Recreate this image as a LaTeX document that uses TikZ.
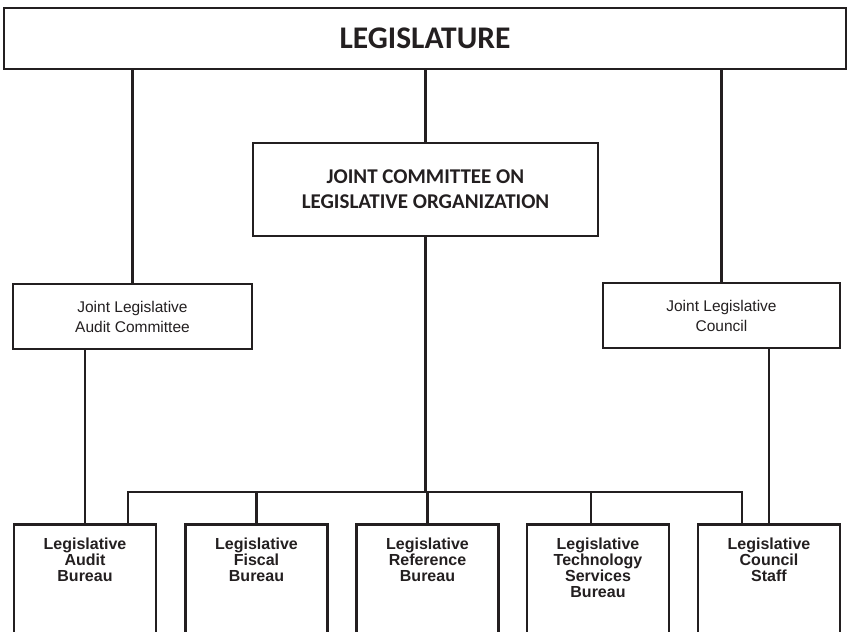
\documentclass[tikz,border=0pt]{standalone}
\usepackage{fontspec}
\setmainfont{Liberation Sans}
\newfontfamily\headfont{Carlito}
\newlength{\du}
\setlength{\du}{1pt}
\definecolor{dialinecolor}{rgb}{0.137255, 0.121569, 0.125490}
\tikzset{
  orgbox/.style={draw=dialinecolor, line width=2.6\du, rectangle, inner sep=0pt, text=dialinecolor},
  headbox/.style={orgbox, align=center, font=\headfont\bfseries\fontsize{21}{25}\selectfont},
  jointbox/.style={orgbox, align=center, minimum height=65\du, font=\fontsize{15.5}{20}\selectfont},
  bureaubox/.style={orgbox, anchor=north, minimum width=142\du, minimum height=125\du},
  bureaulabel/.style={anchor=north, inner sep=0pt, align=center, text=dialinecolor, font=\bfseries\fontsize{16}{16}\selectfont},
  orgline/.style={draw=dialinecolor, line width=2.6\du},
}
\begin{document}
\begin{tikzpicture}
\pgftransformxscale{1.000000}
\pgftransformyscale{-1.000000}
\useasboundingbox (0\du,0\du) rectangle (849\du,632\du);
\clip (0\du,0\du) rectangle (849\du,632\du);
% top level
\node[headbox, minimum width=842\du, minimum height=61\du, font=\headfont\bfseries\fontsize{31.5}{34}\selectfont] (legis) at (425\du,38.5\du) {LEGISLATURE};
\node[headbox, minimum width=345\du, minimum height=93\du] (jclo) at (425.5\du,189.5\du) {JOINT COMMITTEE ON\\LEGISLATIVE ORGANIZATION};
% joint committees
\node[jointbox, minimum width=239\du] (jlac) at (132.5\du,316.5\du) {Joint Legislative\\Audit Committee};
\node[jointbox, minimum width=237\du] (jlc) at (721.5\du,315.5\du) {Joint Legislative\\Council};
% service agencies
\node[bureaubox] (audit) at (85\du,523\du) {};
\node[bureaubox] (fiscal) at (256.5\du,523\du) {};
\node[bureaubox] (refer) at (427.5\du,523\du) {};
\node[bureaubox] (techn) at (598\du,523\du) {};
\node[bureaubox] (staff) at (769\du,523\du) {};
% setfont left to latex
\node[bureaulabel] (auditlbl) at (85\du,538\du) {Legislative\\Audit\\Bureau};
\node[bureaulabel] (fiscallbl) at (256.5\du,538\du) {Legislative\\Fiscal\\Bureau};
\node[bureaulabel] (referlbl) at (427.5\du,538\du) {Legislative\\Reference\\Bureau};
\node[bureaulabel] (technlbl) at (598\du,538\du) {Legislative\\Technology\\Services\\Bureau};
\node[bureaulabel] (stafflbl) at (769\du,538\du) {Legislative\\Council\\Staff};
% connectors
\coordinate (busL) at (128\du,492\du);
\coordinate (busR) at (742\du,492\du);
\coordinate (techdrop) at (591\du,492\du);
\draw[orgline] (jlac.north |- legis.south) -- (jlac.north);
\draw[orgline] (jclo.north |- legis.south) -- (jclo.north);
\draw[orgline] (jlc.north |- legis.south) -- (jlc.north);
\draw[orgline] (jlac.south -| audit.north) -- (audit.north);
\draw[orgline] (jlc.south -| staff.north) -- (staff.north);
\draw[orgline] (jclo.south) -- (jclo.south |- busL);
\draw[orgline] (audit.north -| busL) |- (busR) -- (staff.north -| busR);
\foreach \b in {fiscal,refer}
  \draw[orgline] (\b.north |- busL) -- (\b.north);
\draw[orgline] (techdrop) -- (techdrop |- techn.north);
\end{tikzpicture}
\end{document}
